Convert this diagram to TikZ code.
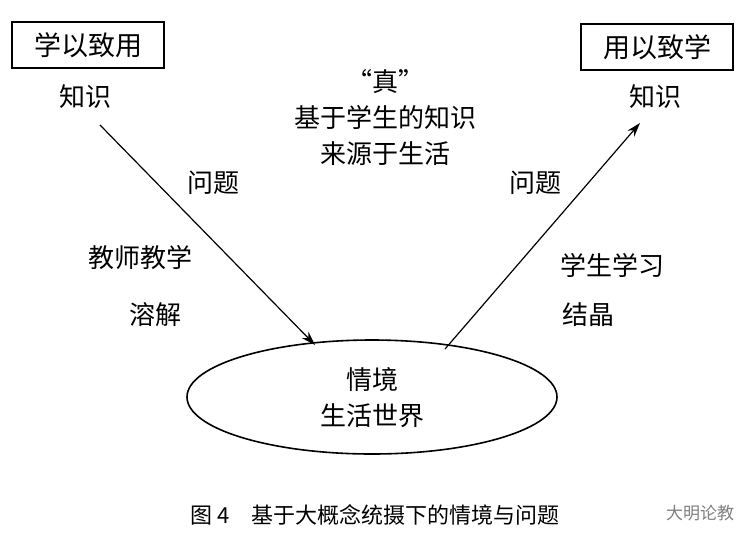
\documentclass[tikz,border=0pt]{standalone}
\usepackage{fontspec}
\setmainfont{Noto Sans CJK SC}
\usetikzlibrary{arrows.meta}
\tikzset{lbl/.style={font=\fontsize{26}{36}\selectfont,inner sep=0pt},
 box/.style={draw,line width=1.6pt,minimum width=152pt,minimum height=46pt,font=\fontsize{27}{30}\selectfont},
 arr/.style={line width=1.2pt,-{Stealth[length=14pt,width=9pt]}}}
\begin{document}
\begin{tikzpicture}[x=1pt,y=-1pt]
\useasboundingbox[fill=white] (0,0) rectangle (746,541);
\node[box] (b1) at (88,45) {学以致用};
\node[box] (b2) at (657,47) {用以致学};
\node[lbl] (k1) at (85,97) {知识};
\node[lbl] (k2) at (655,97) {知识};
\node[lbl,align=center] (c) at (385,118) {“真”\\基于学生的知识\\来源于生活};
\node[lbl] (q1) at (213,183) {问题};
\node[lbl] (t1) at (140,258) {教师教学};
\node[lbl] (r1) at (155,315) {溶解};
\node[lbl] (q2) at (535,183) {问题};
\node[lbl] (t2) at (612,265) {学生学习};
\node[lbl] (r2) at (588,315) {结晶};
\draw[line width=1.6pt] (372,397) ellipse [x radius=185, y radius=57];
\coordinate (e1) at (315,345);
\coordinate (e2) at (445,349);
\node[lbl,align=center] (e) at (372,398) {情境\\生活世界};
\coordinate (s1) at (100,125);
\coordinate (s2) at (640,123);
\draw[arr] (s1) -- (e1);
\draw[arr] (e2) -- (s2);
\node[inner sep=0pt,font=\fontsize{22}{24}\selectfont] (cap) at (375,515) {图 4\quad 基于大概念统摄下的情境与问题};
\node[inner sep=0pt,text=gray,font=\fontsize{17}{20}\selectfont] (wm) at (700,513) {大明论教};
\end{tikzpicture}
\end{document}
